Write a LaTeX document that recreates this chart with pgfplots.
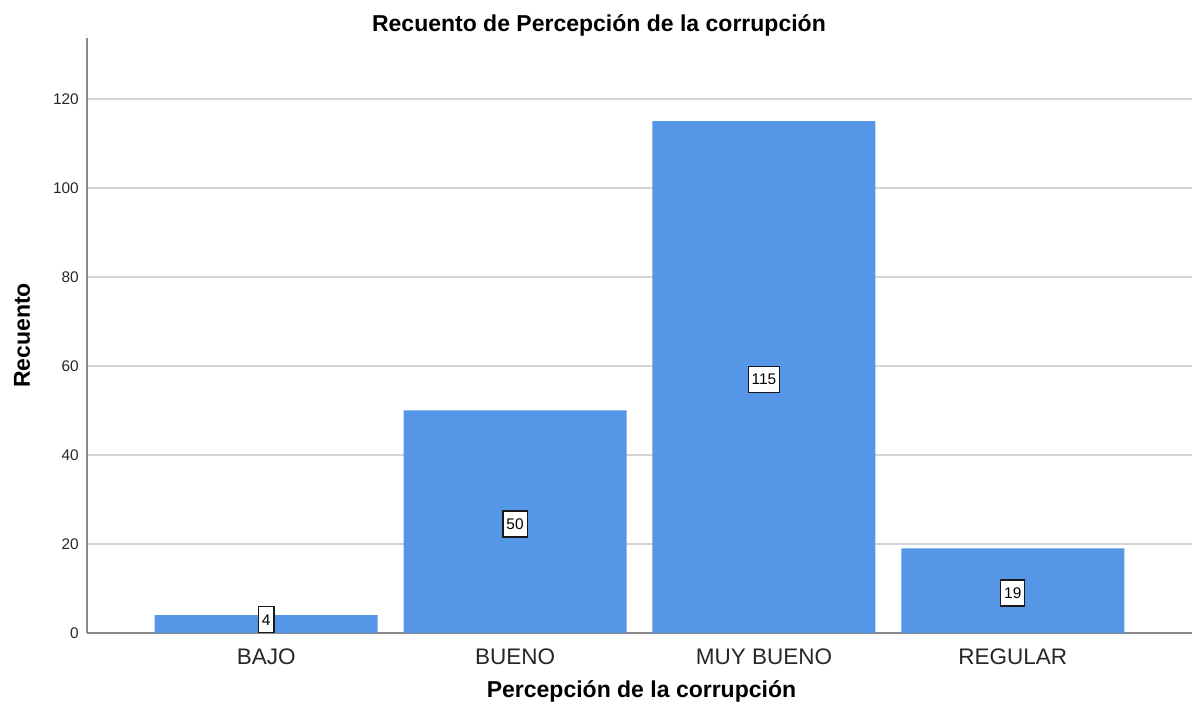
\documentclass[border=0pt]{standalone}
\usepackage{fontspec}
\setmainfont{Liberation Sans}
\usepackage{pgfplots}
\pgfplotsset{compat=1.18}
\definecolor{barblue}{HTML}{5596E6}
\definecolor{gridgray}{HTML}{D4D4D4}
\definecolor{axgray}{HTML}{8A8A8A}
\begin{document}
\begin{tikzpicture}
\path[use as bounding box] (-87pt,-87pt) rectangle (1105pt,633pt);
\begin{axis}[
  at={(0pt,0pt)}, anchor=south west,
  scale only axis,
  width=1105pt, height=595pt,
  xmin=-0.72, xmax=3.72,
  ymin=0, ymax=133.7,
  axis lines=left,
  axis line style={-, draw=axgray, line width=1.4pt},
  xtick={0,1,2,3},
  xticklabels={BAJO,BUENO,MUY BUENO,REGULAR},
  ytick={0,20,40,60,80,100,120},
  major tick length=0pt,
  ymajorgrids,
  major grid style={draw=gridgray, line width=1.5pt},
  /pgf/number format/assume math mode=true,
  xticklabel style={anchor=base, inner sep=0pt, yshift=-32pt, font=\fontsize{22.5}{26}\selectfont, text=black!85},
  yticklabel style={anchor=east, inner sep=0pt, xshift=-8pt, font=\fontsize{15.4}{18}\selectfont, text=black!85},
  every axis title shift=0pt,
  title={Recuento de Percepción de la corrupción},
  title style={at={(axis description cs:0.4633,1.0101)}, anchor=base, inner sep=0pt, font=\fontsize{23}{27}\selectfont\bfseries},
  xlabel={Percepción de la corrupción},
  xlabel style={at={(axis description cs:0.5018,-0.1076)}, anchor=base, inner sep=0pt, font=\fontsize{23}{27}\selectfont\bfseries},
  ylabel={Recuento},
  ylabel style={at={(axis description cs:-0.0516,0.5)}, anchor=base, rotate=0, inner sep=0pt, font=\fontsize{23}{27}\selectfont\bfseries},
  clip=false,
]
\addplot[ybar, bar width=223pt, fill=barblue, draw=none] coordinates {(0,4) (1,50) (2,115) (3,19)};
\addplot[draw=none, mark=none, nodes near coords, point meta=explicit symbolic,
  nodes near coords align={center},
  every node near coord/.append style={fill=white, draw=black!90, line width=1.2pt, inner xsep=3.5pt, inner ysep=7.5pt, text height=11pt, text depth=0pt, font=\fontsize{15.4}{18}\selectfont}]
  coordinates {(0,2.95)[4] (1,24.5)[50] (2,57)[115] (3,9)[19]};
\end{axis}
\end{tikzpicture}
\end{document}
